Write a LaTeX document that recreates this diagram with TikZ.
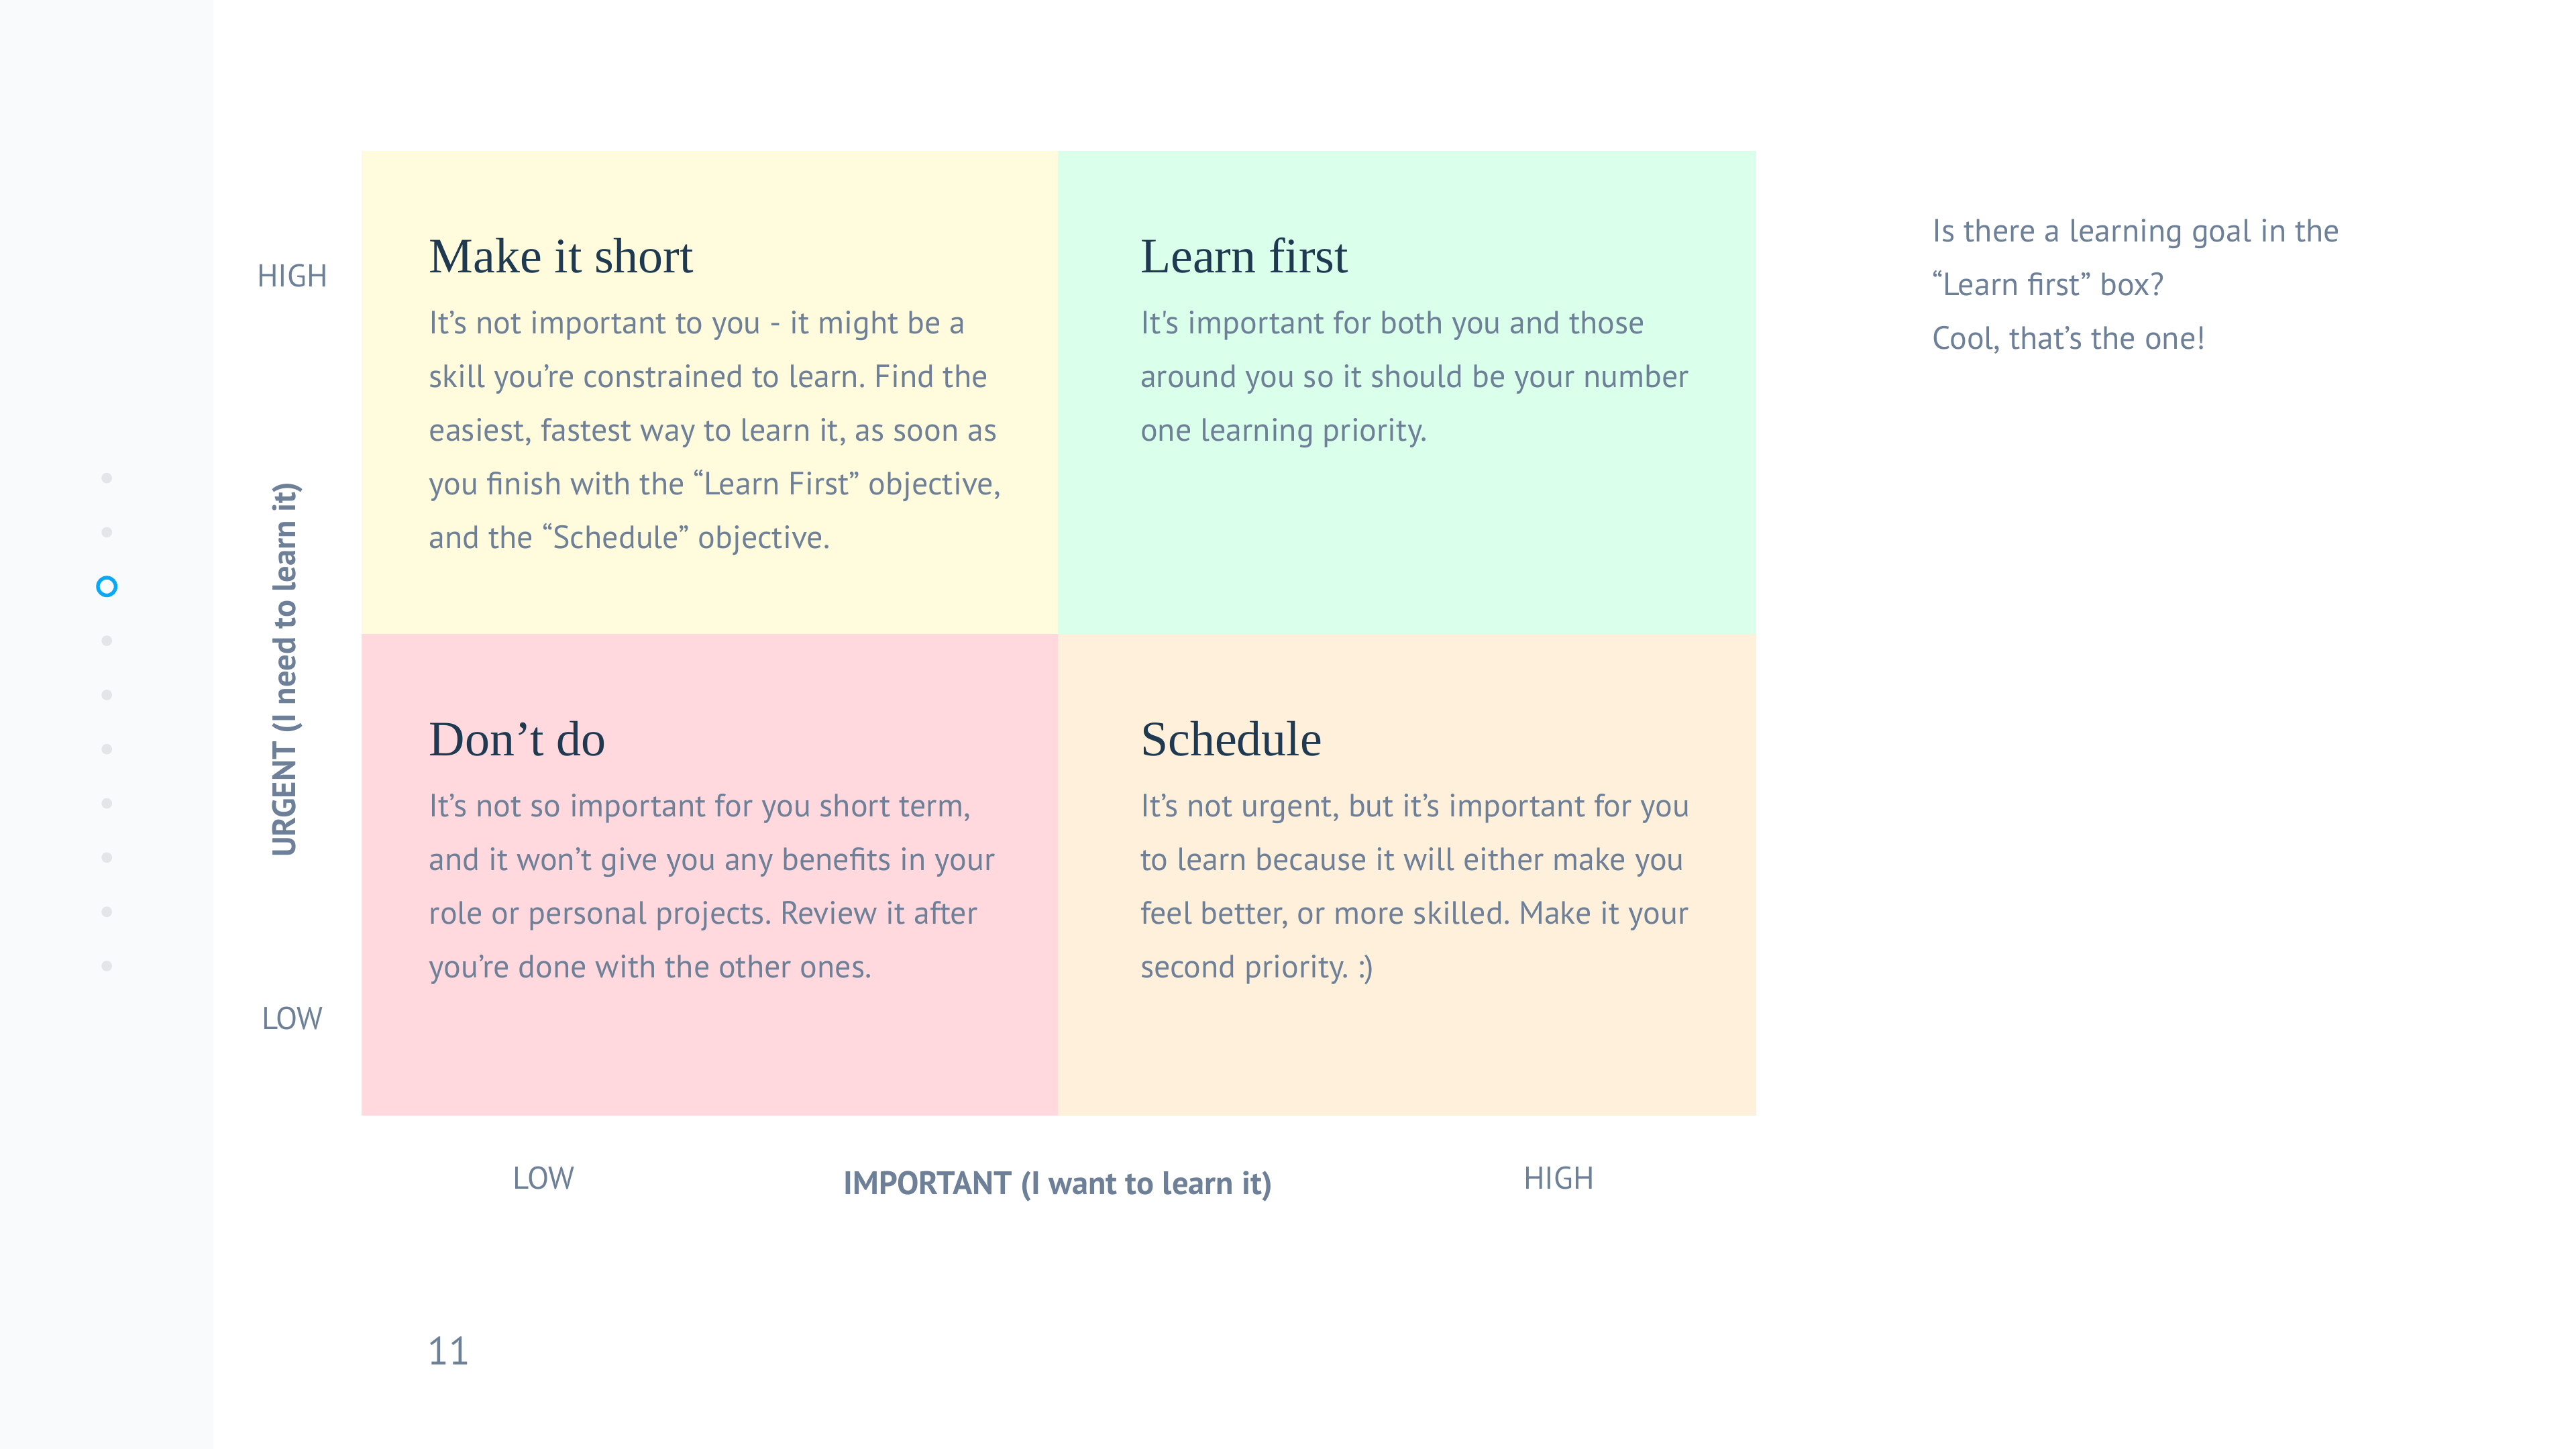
\documentclass[tikz,border=0pt]{standalone}
\usepackage{fontspec}
\setmainfont{PT Sans}[Ligatures=TeXOff]
\newfontfamily\titlefont{Liberation Serif}
\frenchspacing
\definecolor{sidebar}{HTML}{F9FAFB}
\definecolor{dotgray}{HTML}{E3E5E8}
\definecolor{ringblue}{HTML}{0AA8F5}
\definecolor{qyellow}{HTML}{FFFBDC}
\definecolor{qgreen}{HTML}{DAFFEA}
\definecolor{qpink}{HTML}{FFD9DE}
\definecolor{qpeach}{HTML}{FFF0DB}
\definecolor{bodycol}{HTML}{6E8098}
\definecolor{titlecol}{HTML}{1F3A50}
\begin{document}
\begin{tikzpicture}[x=1pt,y=-1pt,
  body/.style={anchor=north west, align=left, inner sep=0pt, text=bodycol, font=\fontsize{19.6}{32.7}\selectfont},
  qtitle/.style={anchor=base west, inner sep=0pt, text=titlecol, font=\titlefont\fontsize{30.2}{36}\selectfont},
  axlab/.style={inner sep=0pt, text=bodycol, font=\fontsize{19.2}{22}\selectfont},
  axtitle/.style={inner sep=0pt, text=bodycol, font=\bfseries\fontsize{19.8}{22}\selectfont},
  dot/.style={fill=dotgray, draw=none}]
\fill[white] (0,0) rectangle (1568,882);
\useasboundingbox (0,0) rectangle (1568,882);
\fill[sidebar] (0,0) rectangle (130,882);
% navigation dots
\foreach \yy in {291,324,390,423,456,489,522,555,588} \fill[dot] (65,\yy) circle (3.2pt);
\draw[ringblue, line width=2.2pt] (65,357) circle (5.4pt);
% quadrants
\fill[qyellow] (220,92) rectangle (644,386);
\fill[qgreen] (644,92) rectangle (1069,386);
\fill[qpink] (220,386) rectangle (644,679);
\fill[qpeach] (644,386) rectangle (1069,679);
% titles
\node[qtitle] (t1) at (261,166) {Make it short};
\node[qtitle] (t2) at (694,166) {Learn first};
\node[qtitle] (t3) at (261,460) {Don’t do};
\node[qtitle] (t4) at (694,460) {Schedule};
% bodies
\node[body] (b1) at (261,189) {It’s not important to you - it might be a\\skill you’re constrained to learn. Find the\\easiest, fastest way to learn it, as soon as\\you finish with the “Learn First” objective,\\and the “Schedule” objective.};
\node[body] (b2) at (694,189) {It's important for both you and those\\around you so it should be your number\\one learning priority.};
\node[body] (b3) at (261,483) {It’s not so important for you short term,\\and it won’t give you any benefits in your\\role or personal projects. Review it after\\you’re done with the other ones.};
\node[body] (b4) at (694,483) {It’s not urgent, but it’s important for you\\to learn because it will either make you\\feel better, or more skilled. Make it your\\second priority. :)};
% axes labels
\node[axlab] (yhigh) at (178,168) {HIGH};
\node[axlab] (ylow) at (178,620) {LOW};
\node[axtitle, rotate=90] (ytitle) at (175,407.5) {URGENT (I need to learn it)};
\node[axlab] (xlow) at (331,717) {LOW};
\node[axtitle] (xtitle) at (644,722) {IMPORTANT (I want to learn it)};
\node[axlab] (xhigh) at (949,717) {HIGH};
% side note
\node[body] (note) at (1176,133) {Is there a learning goal in the\\“Learn first” box?\\Cool, that’s the one!};
% page number
\node[inner sep=0pt, text=bodycol, font=\fontsize{24}{28}\selectfont] (pg) at (273.5,822) {11};
\end{tikzpicture}
\end{document}
